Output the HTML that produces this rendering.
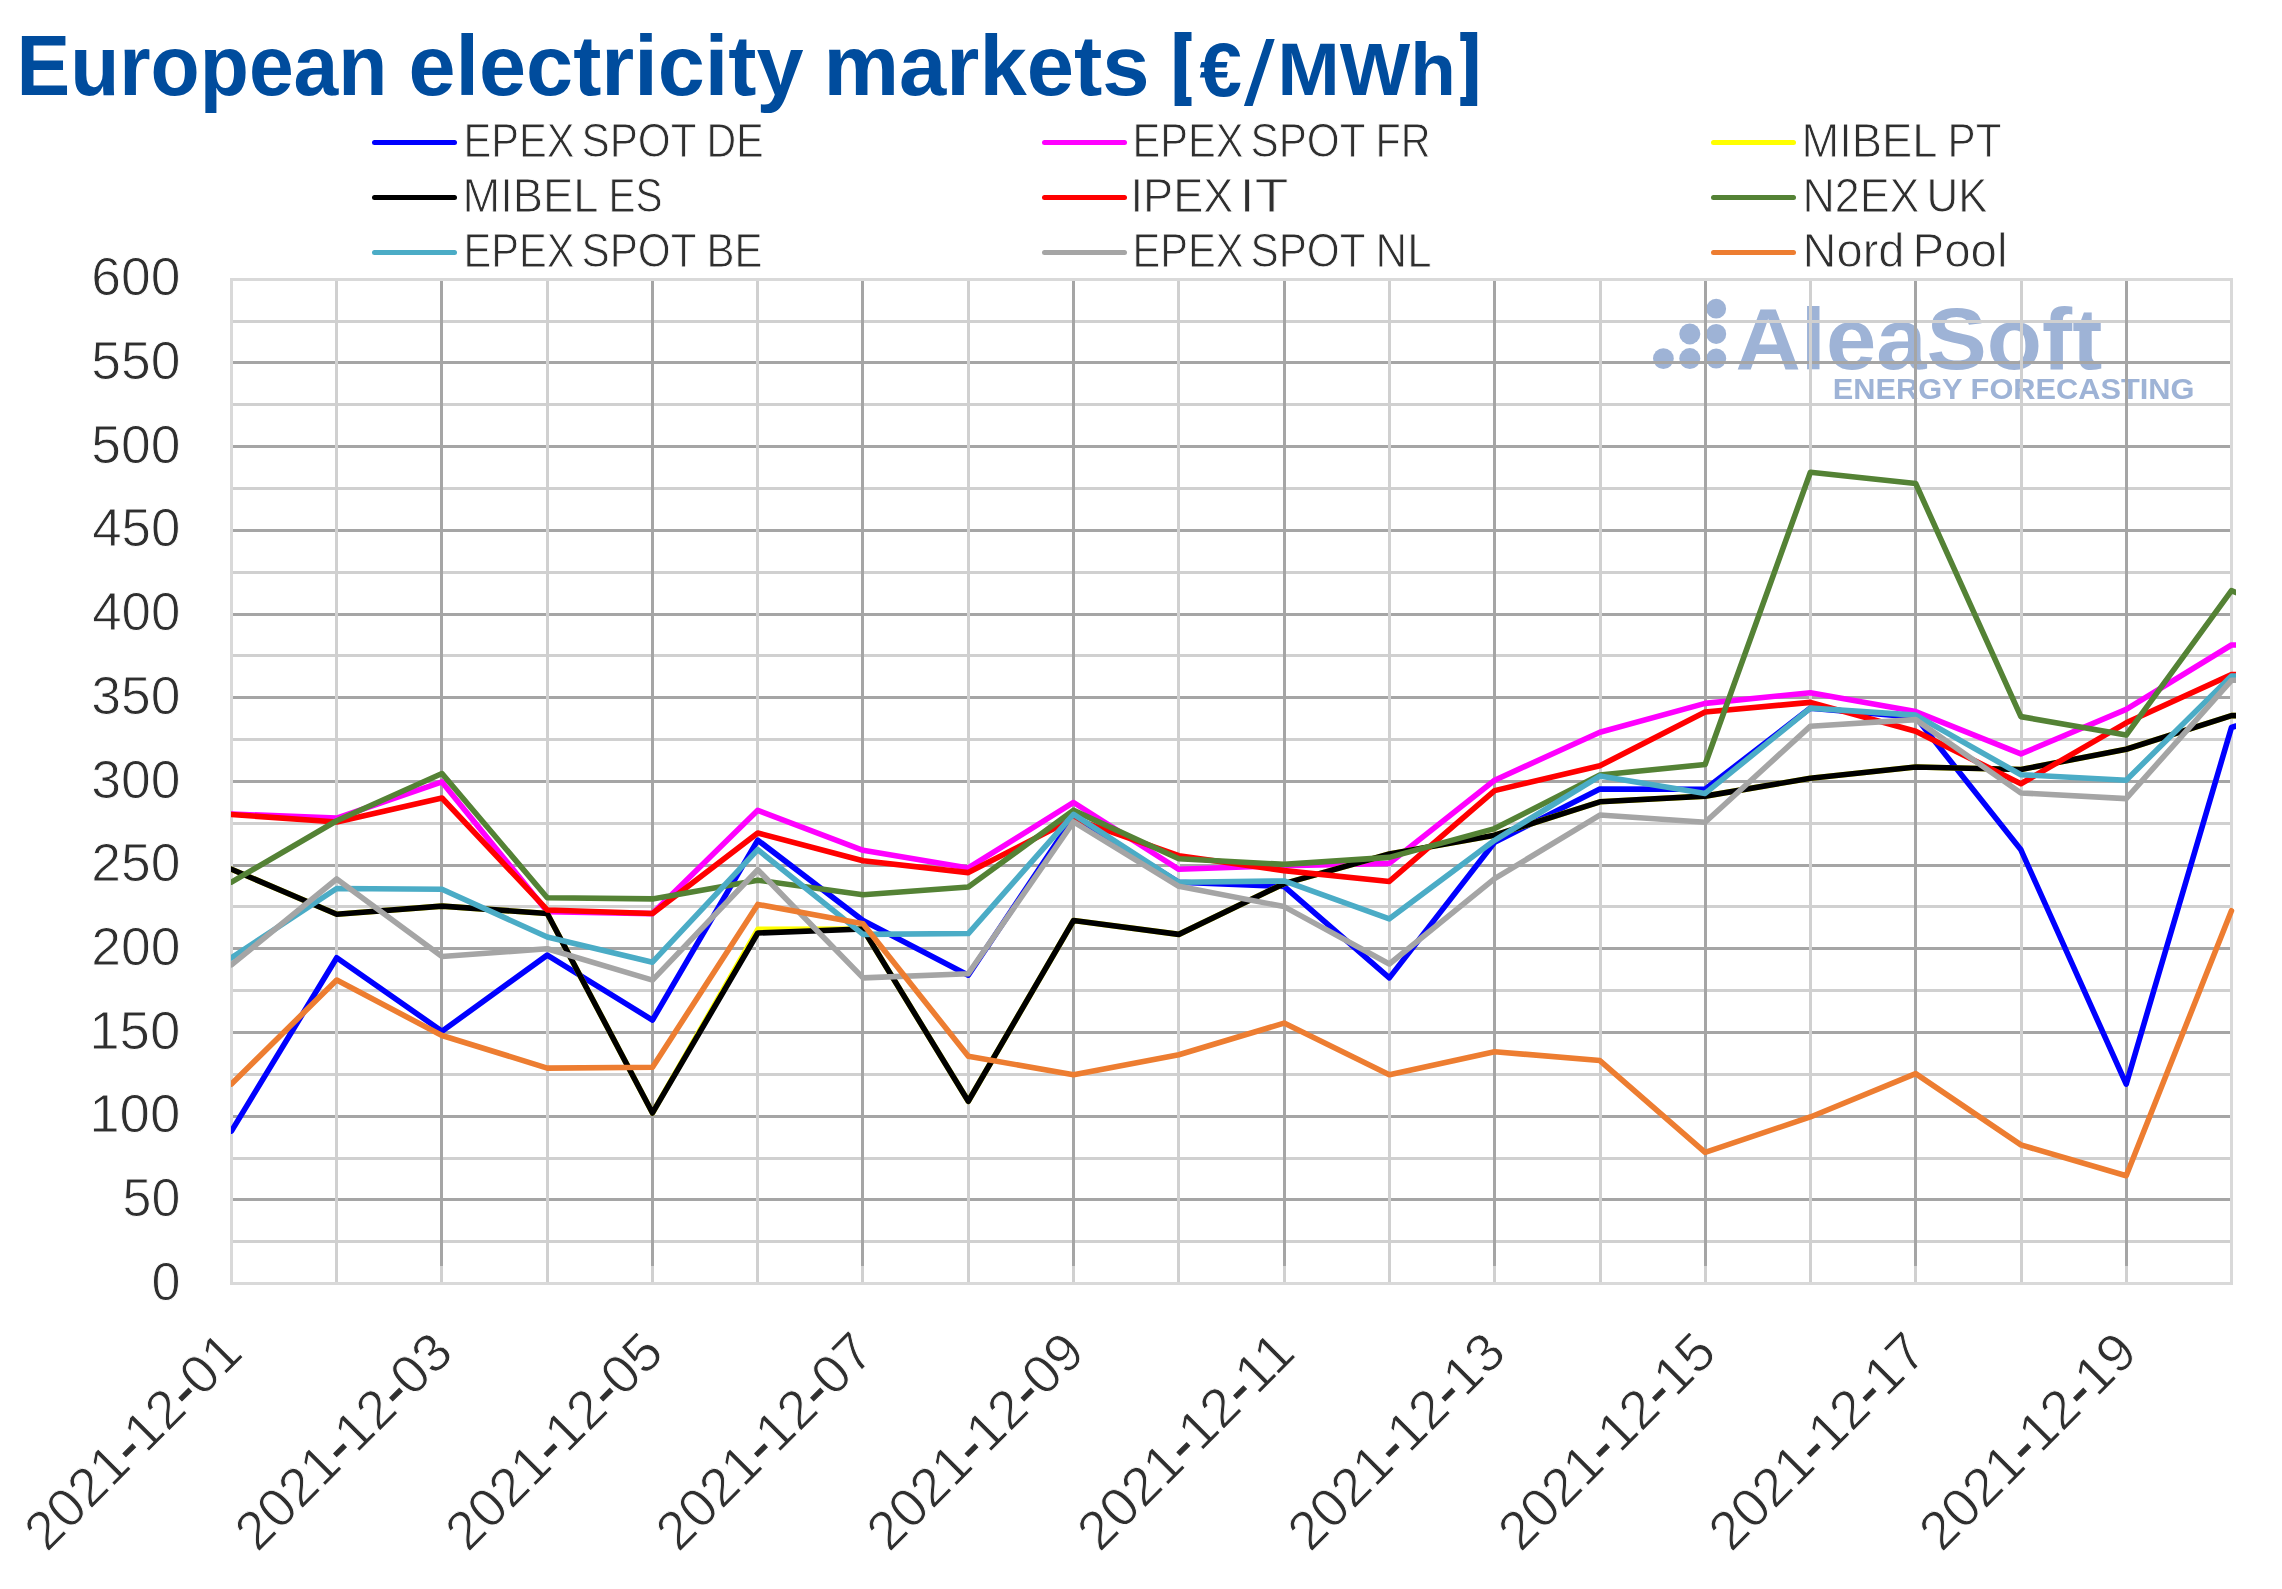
<!DOCTYPE html>
<html><head><meta charset="utf-8"><title>European electricity markets</title>
<style>
html,body{margin:0;padding:0;background:#fff;}
body{width:2282px;height:1589px;overflow:hidden;}
svg{display:block;will-change:transform;}
text{font-family:"Liberation Sans",sans-serif;}
</style></head><body>
<svg width="2282" height="1589" viewBox="0 0 2282 1589">
<rect width="2282" height="1589" fill="#fff"/>
<text x="16.50" y="95.2" font-size="84.5" font-weight="bold" fill="#004C9D" textLength="371.00" lengthAdjust="spacingAndGlyphs">European</text>
<text x="408.50" y="95.2" font-size="84.5" font-weight="bold" fill="#004C9D" textLength="395.00" lengthAdjust="spacingAndGlyphs">electricity</text>
<text x="823.50" y="95.2" font-size="84.5" font-weight="bold" fill="#004C9D" textLength="326.00" lengthAdjust="spacingAndGlyphs">markets</text>
<text x="1199.40" y="95.6" font-size="75.9" font-weight="bold" fill="#004C9D" textLength="42.40" lengthAdjust="spacingAndGlyphs">€</text>
<text x="1277.60" y="95.0" font-size="74" font-weight="bold" fill="#004C9D" textLength="178.20" lengthAdjust="spacingAndGlyphs">MWh</text>
<text x="463.50" y="157.0" font-size="47.6" stroke="#fff" stroke-width="0.9" fill="#2F2F2F" textLength="111.00" lengthAdjust="spacingAndGlyphs">EPEX</text>
<text x="581.50" y="157.0" font-size="47.6" stroke="#fff" stroke-width="0.9" fill="#2F2F2F" textLength="115.00" lengthAdjust="spacingAndGlyphs">SPOT</text>
<text x="706.50" y="157.0" font-size="47.6" stroke="#fff" stroke-width="0.9" fill="#2F2F2F" textLength="57.00" lengthAdjust="spacingAndGlyphs">DE</text>
<text x="1132.50" y="157.0" font-size="47.6" stroke="#fff" stroke-width="0.9" fill="#2F2F2F" textLength="111.00" lengthAdjust="spacingAndGlyphs">EPEX</text>
<text x="1250.50" y="157.0" font-size="47.6" stroke="#fff" stroke-width="0.9" fill="#2F2F2F" textLength="115.00" lengthAdjust="spacingAndGlyphs">SPOT</text>
<text x="1375.50" y="157.0" font-size="47.6" stroke="#fff" stroke-width="0.9" fill="#2F2F2F" textLength="55.00" lengthAdjust="spacingAndGlyphs">FR</text>
<text x="1801.50" y="157.0" font-size="47.6" stroke="#fff" stroke-width="0.9" fill="#2F2F2F" textLength="136.00" lengthAdjust="spacingAndGlyphs">MIBEL</text>
<text x="1947.50" y="157.0" font-size="47.6" stroke="#fff" stroke-width="0.9" fill="#2F2F2F" textLength="54.00" lengthAdjust="spacingAndGlyphs">PT</text>
<text x="462.50" y="211.9" font-size="47.6" stroke="#fff" stroke-width="0.9" fill="#2F2F2F" textLength="136.00" lengthAdjust="spacingAndGlyphs">MIBEL</text>
<text x="608.50" y="211.9" font-size="47.6" stroke="#fff" stroke-width="0.9" fill="#2F2F2F" textLength="54.00" lengthAdjust="spacingAndGlyphs">ES</text>
<text x="1130.50" y="211.9" font-size="47.6" stroke="#fff" stroke-width="0.9" fill="#2F2F2F" textLength="103.00" lengthAdjust="spacingAndGlyphs">IPEX</text>
<text x="1239.50" y="211.9" font-size="47.6" stroke="#fff" stroke-width="0.9" fill="#2F2F2F" textLength="49.00" lengthAdjust="spacingAndGlyphs">IT</text>
<text x="1802.50" y="211.9" font-size="47.6" stroke="#fff" stroke-width="0.9" fill="#2F2F2F" textLength="117.00" lengthAdjust="spacingAndGlyphs">N2EX</text>
<text x="1926.50" y="211.9" font-size="47.6" stroke="#fff" stroke-width="0.9" fill="#2F2F2F" textLength="61.00" lengthAdjust="spacingAndGlyphs">UK</text>
<text x="463.50" y="267.0" font-size="47.6" stroke="#fff" stroke-width="0.9" fill="#2F2F2F" textLength="111.00" lengthAdjust="spacingAndGlyphs">EPEX</text>
<text x="581.50" y="267.0" font-size="47.6" stroke="#fff" stroke-width="0.9" fill="#2F2F2F" textLength="115.00" lengthAdjust="spacingAndGlyphs">SPOT</text>
<text x="706.50" y="267.0" font-size="47.6" stroke="#fff" stroke-width="0.9" fill="#2F2F2F" textLength="56.00" lengthAdjust="spacingAndGlyphs">BE</text>
<text x="1132.50" y="267.0" font-size="47.6" stroke="#fff" stroke-width="0.9" fill="#2F2F2F" textLength="111.00" lengthAdjust="spacingAndGlyphs">EPEX</text>
<text x="1250.50" y="267.0" font-size="47.6" stroke="#fff" stroke-width="0.9" fill="#2F2F2F" textLength="115.00" lengthAdjust="spacingAndGlyphs">SPOT</text>
<text x="1375.50" y="267.0" font-size="47.6" stroke="#fff" stroke-width="0.9" fill="#2F2F2F" textLength="56.00" lengthAdjust="spacingAndGlyphs">NL</text>
<text x="1802.50" y="267.0" font-size="47.6" stroke="#fff" stroke-width="0.9" fill="#2F2F2F" textLength="102.00" lengthAdjust="spacingAndGlyphs">Nord</text>
<text x="1912.50" y="267.0" font-size="47.6" stroke="#fff" stroke-width="0.9" fill="#2F2F2F" textLength="95.00" lengthAdjust="spacingAndGlyphs">Pool</text>
<text x="151.40" y="1299.6" font-size="54.2" stroke="#fff" stroke-width="0.9" fill="#2F2F2F" textLength="29.00" lengthAdjust="spacingAndGlyphs">0</text>
<text x="122.60" y="1215.9" font-size="54.2" stroke="#fff" stroke-width="0.9" fill="#2F2F2F" textLength="57.80" lengthAdjust="spacingAndGlyphs">50</text>
<text x="89.20" y="1132.2" font-size="54.2" stroke="#fff" stroke-width="0.9" fill="#2F2F2F" textLength="91.20" lengthAdjust="spacingAndGlyphs">100</text>
<text x="89.20" y="1048.5" font-size="54.2" stroke="#fff" stroke-width="0.9" fill="#2F2F2F" textLength="91.20" lengthAdjust="spacingAndGlyphs">150</text>
<text x="91.20" y="964.9" font-size="54.2" stroke="#fff" stroke-width="0.9" fill="#2F2F2F" textLength="89.20" lengthAdjust="spacingAndGlyphs">200</text>
<text x="91.20" y="881.2" font-size="54.2" stroke="#fff" stroke-width="0.9" fill="#2F2F2F" textLength="89.20" lengthAdjust="spacingAndGlyphs">250</text>
<text x="91.20" y="797.5" font-size="54.2" stroke="#fff" stroke-width="0.9" fill="#2F2F2F" textLength="89.20" lengthAdjust="spacingAndGlyphs">300</text>
<text x="91.20" y="713.8" font-size="54.2" stroke="#fff" stroke-width="0.9" fill="#2F2F2F" textLength="89.20" lengthAdjust="spacingAndGlyphs">350</text>
<text x="92.20" y="630.1" font-size="54.2" stroke="#fff" stroke-width="0.9" fill="#2F2F2F" textLength="88.20" lengthAdjust="spacingAndGlyphs">400</text>
<text x="92.20" y="546.4" font-size="54.2" stroke="#fff" stroke-width="0.9" fill="#2F2F2F" textLength="88.20" lengthAdjust="spacingAndGlyphs">450</text>
<text x="91.20" y="462.8" font-size="54.2" stroke="#fff" stroke-width="0.9" fill="#2F2F2F" textLength="89.20" lengthAdjust="spacingAndGlyphs">500</text>
<text x="91.20" y="379.1" font-size="54.2" stroke="#fff" stroke-width="0.9" fill="#2F2F2F" textLength="89.20" lengthAdjust="spacingAndGlyphs">550</text>
<text x="91.20" y="295.4" font-size="54.2" stroke="#fff" stroke-width="0.9" fill="#2F2F2F" textLength="89.20" lengthAdjust="spacingAndGlyphs">600</text>
<path fill="#004C9D" d="M1174.6,31.9H1191.5V40.9H1186.1V97.0H1191.5V106.0H1174.6Z M1477.2,32.1H1460.3V41.0H1466.1V97.1H1460.3V105.9H1477.2Z M1266.2,39.0H1274.7L1252.6,105.9H1243.9Z"/>
<line x1="374.5" y1="142.4" x2="454.5" y2="142.4" stroke="#0000FF" stroke-width="5" stroke-linecap="round"/>
<line x1="1044.5" y1="142.4" x2="1124.5" y2="142.4" stroke="#FF00FF" stroke-width="5" stroke-linecap="round"/>
<line x1="1713.5" y1="142.4" x2="1793.5" y2="142.4" stroke="#FFFF00" stroke-width="5" stroke-linecap="round"/>
<line x1="374.5" y1="197.4" x2="454.5" y2="197.4" stroke="#000000" stroke-width="5" stroke-linecap="round"/>
<line x1="1044.5" y1="197.4" x2="1124.5" y2="197.4" stroke="#FF0000" stroke-width="5" stroke-linecap="round"/>
<line x1="1713.5" y1="197.4" x2="1793.5" y2="197.4" stroke="#548235" stroke-width="5" stroke-linecap="round"/>
<line x1="374.5" y1="252.4" x2="454.5" y2="252.4" stroke="#4BACC6" stroke-width="5" stroke-linecap="round"/>
<line x1="1044.5" y1="252.4" x2="1124.5" y2="252.4" stroke="#A5A5A5" stroke-width="5" stroke-linecap="round"/>
<line x1="1713.5" y1="252.4" x2="1793.5" y2="252.4" stroke="#ED7D31" stroke-width="5" stroke-linecap="round"/>
<g fill="#9EB3D6"><circle cx="1716.2" cy="308.7" r="9.9"/><circle cx="1689.8" cy="333.9" r="10.5"/><circle cx="1716.2" cy="333.9" r="10.0"/><circle cx="1663.4" cy="358.6" r="10.4"/><circle cx="1689.8" cy="358.6" r="10.5"/><circle cx="1716.2" cy="358.6" r="10.0"/><text x="1735.50" y="368.6" font-size="88" font-weight="bold" textLength="366.80" lengthAdjust="spacingAndGlyphs">AleaSoft</text>
<text x="1832.70" y="399.0" font-size="29.9" font-weight="bold" textLength="361.80" lengthAdjust="spacingAndGlyphs">ENERGY FORECASTING</text>
</g>
<rect x="230" y="1240" width="2003" height="3" fill="#D0D0D0"/>
<rect x="230" y="1198" width="2003" height="3" fill="#A5A5A5"/>
<rect x="230" y="1157" width="2003" height="3" fill="#D0D0D0"/>
<rect x="230" y="1115" width="2003" height="3" fill="#A5A5A5"/>
<rect x="230" y="1073" width="2003" height="3" fill="#D0D0D0"/>
<rect x="230" y="1031" width="2003" height="3" fill="#A5A5A5"/>
<rect x="230" y="989" width="2003" height="3" fill="#D0D0D0"/>
<rect x="230" y="947" width="2003" height="3" fill="#A5A5A5"/>
<rect x="230" y="905" width="2003" height="3" fill="#D0D0D0"/>
<rect x="230" y="864" width="2003" height="3" fill="#A5A5A5"/>
<rect x="230" y="822" width="2003" height="3" fill="#D0D0D0"/>
<rect x="230" y="780" width="2003" height="3" fill="#A5A5A5"/>
<rect x="230" y="738" width="2003" height="3" fill="#D0D0D0"/>
<rect x="230" y="696" width="2003" height="3" fill="#A5A5A5"/>
<rect x="230" y="654" width="2003" height="3" fill="#D0D0D0"/>
<rect x="230" y="613" width="2003" height="3" fill="#A5A5A5"/>
<rect x="230" y="571" width="2003" height="3" fill="#D0D0D0"/>
<rect x="230" y="529" width="2003" height="3" fill="#A5A5A5"/>
<rect x="230" y="487" width="2003" height="3" fill="#D0D0D0"/>
<rect x="230" y="445" width="2003" height="3" fill="#A5A5A5"/>
<rect x="230" y="403" width="2003" height="3" fill="#D0D0D0"/>
<rect x="230" y="361" width="2003" height="3" fill="#A5A5A5"/>
<rect x="230" y="320" width="2003" height="3" fill="#D0D0D0"/>
<rect x="335" y="278" width="3" height="1007" fill="#D0D0D0"/>
<rect x="440" y="278" width="3" height="1007" fill="#D0D0D0"/>
<rect x="546" y="278" width="3" height="1007" fill="#D0D0D0"/>
<rect x="651" y="278" width="3" height="1007" fill="#D0D0D0"/>
<rect x="756" y="278" width="3" height="1007" fill="#D0D0D0"/>
<rect x="861" y="278" width="3" height="1007" fill="#D0D0D0"/>
<rect x="967" y="278" width="3" height="1007" fill="#D0D0D0"/>
<rect x="1072" y="278" width="3" height="1007" fill="#D0D0D0"/>
<rect x="1177" y="278" width="3" height="1007" fill="#D0D0D0"/>
<rect x="1283" y="278" width="3" height="1007" fill="#D0D0D0"/>
<rect x="1388" y="278" width="3" height="1007" fill="#D0D0D0"/>
<rect x="1493" y="278" width="3" height="1007" fill="#D0D0D0"/>
<rect x="1599" y="278" width="3" height="1007" fill="#D0D0D0"/>
<rect x="1704" y="278" width="3" height="1007" fill="#D0D0D0"/>
<rect x="1809" y="278" width="3" height="1007" fill="#D0D0D0"/>
<rect x="1914" y="278" width="3" height="1007" fill="#D0D0D0"/>
<rect x="2020" y="278" width="3" height="1007" fill="#D0D0D0"/>
<rect x="2125" y="278" width="3" height="1007" fill="#D0D0D0"/>
<rect x="440" y="281" width="3" height="985" fill="#A5A5A5"/>
<rect x="651" y="281" width="3" height="985" fill="#A5A5A5"/>
<rect x="861" y="281" width="3" height="985" fill="#A5A5A5"/>
<rect x="1072" y="281" width="3" height="985" fill="#A5A5A5"/>
<rect x="1283" y="281" width="3" height="985" fill="#A5A5A5"/>
<rect x="1493" y="281" width="3" height="985" fill="#A5A5A5"/>
<rect x="1704" y="281" width="3" height="985" fill="#A5A5A5"/>
<rect x="1914" y="281" width="3" height="985" fill="#A5A5A5"/>
<rect x="2125" y="281" width="3" height="985" fill="#A5A5A5"/>
<rect x="231.5" y="279.5" width="2000" height="1004" fill="none" stroke="#D9D9D9" stroke-width="3"/>
<defs><clipPath id="pc"><rect x="231.1" y="270" width="2004.9" height="1100"/></clipPath></defs>
<g clip-path="url(#pc)" fill="none" stroke-linejoin="round" stroke-linecap="round">
<polyline points="231.45,1131.03 336.71,957.80 441.98,1031.28 547.24,955.13 652.50,1020.06 757.77,840.15 863.03,920.48 968.29,975.21 1073.56,817.22 1178.82,882.32 1284.08,886.34 1389.34,977.89 1494.61,842.32 1599.87,789.10 1705.13,789.27 1810.40,708.09 1915.66,717.13 2020.92,849.85 2126.19,1084.17 2231.45,727.51 2336.71,694.03" stroke="#0000FF" stroke-width="5.6"/>
<polyline points="231.45,814.04 336.71,818.05 441.98,781.90 547.24,911.61 652.50,913.62 757.77,810.35 863.03,850.36 968.29,867.93 1073.56,802.49 1178.82,869.27 1284.08,865.59 1389.34,863.41 1494.61,780.23 1599.87,732.19 1705.13,703.41 1810.40,692.70 1915.66,711.61 2020.92,753.95 2126.19,709.43 2231.45,645.00 2336.71,645.00" stroke="#FF00FF" stroke-width="5.6"/>
<polyline points="231.45,869.27 336.71,914.29 441.98,906.09 547.24,913.45 652.50,1112.95 757.77,929.35 863.03,929.02 968.29,1101.24 1073.56,920.48 1178.82,934.37 1284.08,883.66 1389.34,854.04 1494.61,835.29 1599.87,801.82 1705.13,796.13 1810.40,778.22 1915.66,767.01 2020.92,769.52 2126.19,749.27 2231.45,715.62 2336.71,715.62" stroke="#FFFF00" stroke-width="5.6"/>
<polyline points="231.45,869.27 336.71,914.29 441.98,906.09 547.24,913.45 652.50,1112.95 757.77,933.03 863.03,929.02 968.29,1101.24 1073.56,920.48 1178.82,934.37 1284.08,883.66 1389.34,854.04 1494.61,835.29 1599.87,801.82 1705.13,796.13 1810.40,778.22 1915.66,767.01 2020.92,769.52 2126.19,749.27 2231.45,715.62 2336.71,715.62" stroke="#000000" stroke-width="5.6"/>
<polyline points="231.45,814.54 336.71,822.07 441.98,797.97 547.24,909.94 652.50,913.45 757.77,832.95 863.03,860.73 968.29,872.61 1073.56,818.56 1178.82,855.71 1284.08,870.61 1389.34,881.49 1494.61,790.61 1599.87,765.83 1705.13,711.94 1810.40,702.40 1915.66,731.19 2020.92,783.74 2126.19,722.82 2231.45,674.62 2336.71,674.62" stroke="#FF0000" stroke-width="5.6"/>
<polyline points="231.45,882.15 336.71,820.73 441.98,773.53 547.24,897.72 652.50,898.89 757.77,880.15 863.03,894.71 968.29,887.01 1073.56,810.35 1178.82,858.72 1284.08,864.41 1389.34,857.38 1494.61,828.60 1599.87,775.04 1705.13,764.50 1810.40,472.27 1915.66,483.49 2020.92,716.63 2126.19,735.04 2231.45,590.60 2336.71,632.44" stroke="#548235" stroke-width="5.6"/>
<polyline points="231.45,957.80 336.71,888.51 441.98,889.18 547.24,937.05 652.50,962.16 757.77,849.69 863.03,934.37 968.29,933.54 1073.56,814.37 1178.82,882.32 1284.08,880.98 1389.34,918.81 1494.61,840.31 1599.87,776.04 1705.13,793.45 1810.40,708.09 1915.66,715.12 2020.92,774.71 2126.19,780.23 2231.45,675.96 2336.71,675.96" stroke="#4BACC6" stroke-width="5.6"/>
<polyline points="231.45,964.83 336.71,878.97 441.98,956.47 547.24,948.77 652.50,980.06 757.77,869.77 863.03,977.89 968.29,973.70 1073.56,821.90 1178.82,886.34 1284.08,906.59 1389.34,964.00 1494.61,878.64 1599.87,815.04 1705.13,822.24 1810.40,726.17 1915.66,719.64 2020.92,792.95 2126.19,798.64 2231.45,680.31 2336.71,680.31" stroke="#A5A5A5" stroke-width="5.6"/>
<polyline points="231.45,1084.00 336.71,980.06 441.98,1035.46 547.24,1068.10 652.50,1067.26 757.77,904.41 863.03,923.83 968.29,1056.22 1073.56,1074.79 1178.82,1054.71 1284.08,1023.08 1389.34,1074.79 1494.61,1051.70 1599.87,1060.57 1705.13,1152.28 1810.40,1116.97 1915.66,1073.62 2020.92,1144.92 2126.19,1175.72 2231.45,910.77" stroke="#ED7D31" stroke-width="5.6"/>
</g>
<text transform="translate(245.0,1355.2) rotate(-45)" font-size="54.3" fill="#2F2F2F" stroke="#fff" stroke-width="0.9" text-anchor="end" textLength="280" lengthAdjust="spacingAndGlyphs">2021<tspan stroke="#2F2F2F" stroke-width="1.1">-</tspan>12<tspan stroke="#2F2F2F" stroke-width="1.1">-</tspan>01</text>
<text transform="translate(455.6,1355.2) rotate(-45)" font-size="54.3" fill="#2F2F2F" stroke="#fff" stroke-width="0.9" text-anchor="end" textLength="280" lengthAdjust="spacingAndGlyphs">2021<tspan stroke="#2F2F2F" stroke-width="1.1">-</tspan>12<tspan stroke="#2F2F2F" stroke-width="1.1">-</tspan>03</text>
<text transform="translate(666.1,1355.2) rotate(-45)" font-size="54.3" fill="#2F2F2F" stroke="#fff" stroke-width="0.9" text-anchor="end" textLength="280" lengthAdjust="spacingAndGlyphs">2021<tspan stroke="#2F2F2F" stroke-width="1.1">-</tspan>12<tspan stroke="#2F2F2F" stroke-width="1.1">-</tspan>05</text>
<text transform="translate(876.6,1355.2) rotate(-45)" font-size="54.3" fill="#2F2F2F" stroke="#fff" stroke-width="0.9" text-anchor="end" textLength="280" lengthAdjust="spacingAndGlyphs">2021<tspan stroke="#2F2F2F" stroke-width="1.1">-</tspan>12<tspan stroke="#2F2F2F" stroke-width="1.1">-</tspan>07</text>
<text transform="translate(1087.2,1355.2) rotate(-45)" font-size="54.3" fill="#2F2F2F" stroke="#fff" stroke-width="0.9" text-anchor="end" textLength="280" lengthAdjust="spacingAndGlyphs">2021<tspan stroke="#2F2F2F" stroke-width="1.1">-</tspan>12<tspan stroke="#2F2F2F" stroke-width="1.1">-</tspan>09</text>
<text transform="translate(1297.7,1355.2) rotate(-45)" font-size="54.3" fill="#2F2F2F" stroke="#fff" stroke-width="0.9" text-anchor="end" textLength="280" lengthAdjust="spacingAndGlyphs">2021<tspan stroke="#2F2F2F" stroke-width="1.1">-</tspan>12<tspan stroke="#2F2F2F" stroke-width="1.1">-</tspan>11</text>
<text transform="translate(1508.2,1355.2) rotate(-45)" font-size="54.3" fill="#2F2F2F" stroke="#fff" stroke-width="0.9" text-anchor="end" textLength="280" lengthAdjust="spacingAndGlyphs">2021<tspan stroke="#2F2F2F" stroke-width="1.1">-</tspan>12<tspan stroke="#2F2F2F" stroke-width="1.1">-</tspan>13</text>
<text transform="translate(1718.7,1355.2) rotate(-45)" font-size="54.3" fill="#2F2F2F" stroke="#fff" stroke-width="0.9" text-anchor="end" textLength="280" lengthAdjust="spacingAndGlyphs">2021<tspan stroke="#2F2F2F" stroke-width="1.1">-</tspan>12<tspan stroke="#2F2F2F" stroke-width="1.1">-</tspan>15</text>
<text transform="translate(1929.3,1355.2) rotate(-45)" font-size="54.3" fill="#2F2F2F" stroke="#fff" stroke-width="0.9" text-anchor="end" textLength="280" lengthAdjust="spacingAndGlyphs">2021<tspan stroke="#2F2F2F" stroke-width="1.1">-</tspan>12<tspan stroke="#2F2F2F" stroke-width="1.1">-</tspan>17</text>
<text transform="translate(2139.8,1355.2) rotate(-45)" font-size="54.3" fill="#2F2F2F" stroke="#fff" stroke-width="0.9" text-anchor="end" textLength="280" lengthAdjust="spacingAndGlyphs">2021<tspan stroke="#2F2F2F" stroke-width="1.1">-</tspan>12<tspan stroke="#2F2F2F" stroke-width="1.1">-</tspan>19</text>
</svg>
</body></html>
